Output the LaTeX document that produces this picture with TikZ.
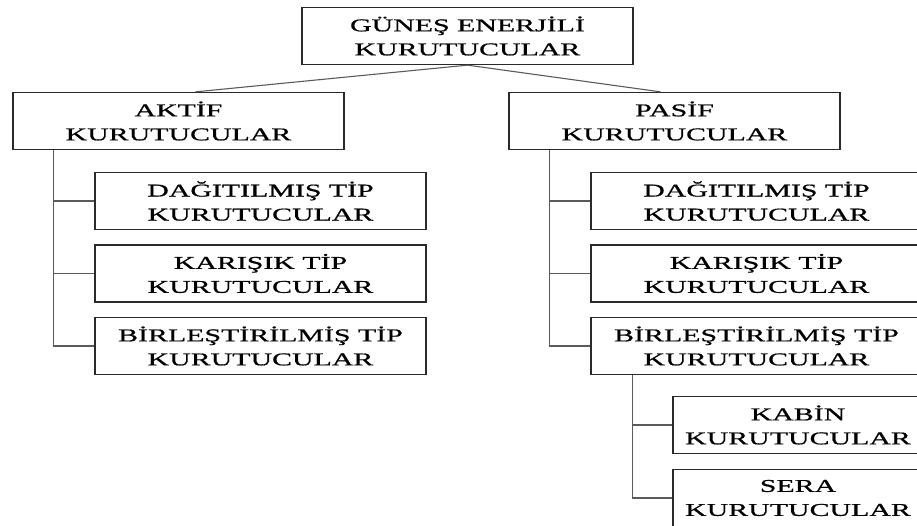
\documentclass[tikz,border=0pt]{standalone}
\usepackage{fontspec}
\setmainfont{Liberation Serif}[FakeStretch=1.66, FakeBold=0.8]
\usepackage{tikz}
\usetikzlibrary{positioning,calc}
\definecolor{edge}{HTML}{2A2A2A}
\definecolor{wire}{HTML}{5A5A5A}

\begin{document}
\begin{tikzpicture}[
          x=1pt, y=-1pt,
          kbox/.style={draw=edge, line width=1.3pt, align=center, inner sep=0pt,
                       minimum width=331pt, minimum height=57pt,
                       font=\fontsize{18}{24}\selectfont},
          sbox/.style={kbox, minimum width=250pt},
          wire/.style={draw=wire, line width=1.1pt}
      ]
        \useasboundingbox (0,0) rectangle (917,526);
        \clip (0,0) rectangle (917,526);

        \node[kbox] (top)   at (467.5,36)  {GÜNEŞ ENERJİLİ\\KURUTUCULAR};
        \node[kbox] (aktif) at (178.5,121) {AKTİF\\KURUTUCULAR};
        \node[kbox] (pasif) at (674.5,121) {PASİF\\KURUTUCULAR};

        \node[kbox] (adag)  at (260.5,201)   {DAĞITILMIŞ TİP\\KURUTUCULAR};
        \node[kbox] (akar)  at (260.5,273.5) {KARIŞIK TİP\\KURUTUCULAR};
        \node[kbox] (abir)  at (260.5,346)   {BİRLEŞTİRİLMİŞ TİP\\KURUTUCULAR};

        \node[kbox] (pdag)  at (756.5,201)   {DAĞITILMIŞ TİP\\KURUTUCULAR};
        \node[kbox] (pkar)  at (756.5,273.5) {KARIŞIK TİP\\KURUTUCULAR};
        \node[kbox] (pbir)  at (756.5,346)   {BİRLEŞTİRİLMİŞ TİP\\KURUTUCULAR};

        \node[sbox] (kabin) at (798,425) {KABİN\\KURUTUCULAR};
        \node[sbox] (sera)  at (798,498) {SERA\\KURUTUCULAR};

        \coordinate (atrunk) at ($(aktif.south west)+(41,0)$);
        \coordinate (ptrunk) at ($(pasif.south west)+(41,0)$);
        \coordinate (strunk) at ($(pbir.south west)+(42,0)$);

        \draw[wire] (top.south) -- ($(aktif.north)+(17,0)$);
        \draw[wire] (top.south) -- ($(pasif.north)+(-14,0)$);

        \draw[wire] (atrunk) |- (adag.west);
        \draw[wire] (atrunk) |- (akar.west);
        \draw[wire] (atrunk) |- (abir.west);

        \draw[wire] (ptrunk) |- (pdag.west);
        \draw[wire] (ptrunk) |- (pkar.west);
        \draw[wire] (ptrunk) |- (pbir.west);

        \draw[wire] (strunk) |- (kabin.west);
        \draw[wire] (strunk) |- (sera.west);
      \end{tikzpicture}
\end{document}
